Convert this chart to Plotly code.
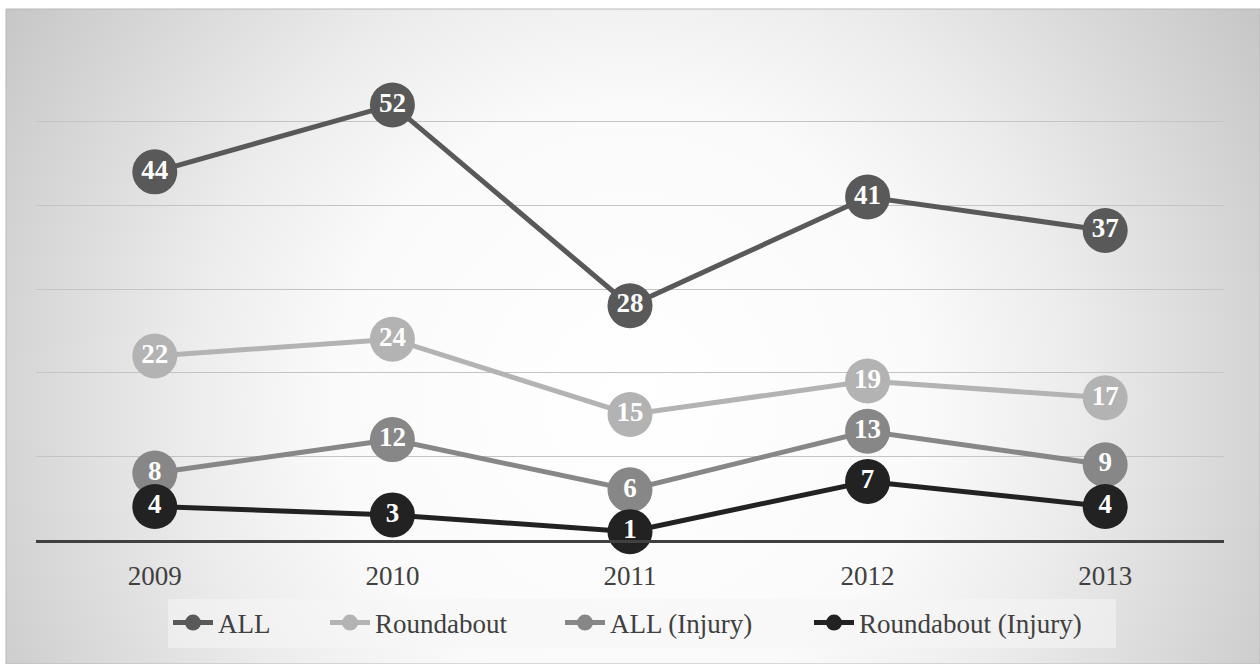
import base64
import plotly.graph_objects as go

years = ["2009", "2010", "2011", "2012", "2013"]
all_vals = [44, 52, 28, 41, 37]
roundabout = [22, 24, 15, 19, 17]
all_injury = [8, 12, 6, 13, 9]
roundabout_injury = [4, 3, 1, 7, 4]

series = [
    ("ALL", all_vals, "#595959", 102),
    ("Roundabout", roundabout, "#b3b3b3", 180),
    ("ALL (Injury)", all_injury, "#878787", 194),
    ("Roundabout (Injury)", roundabout_injury, "#222222", 252),
]

W, H = 1260, 664
L, R, T, B = 36, 36, 38, 124
pw, ph = W - L - R, H - T - B

def px2x(px):
    return (px - L) / pw

def py2y(py):
    return (H - B - py) / ph

fig = go.Figure()
for name, vals, col, lw in series:
    fig.add_trace(go.Scatter(
        x=years, y=vals, name=name,
        mode="lines+markers+text",
        line=dict(color=col, width=5),
        marker=dict(color=col, size=45, line=dict(width=0)),
        text=[str(v) for v in vals],
        textposition="middle center",
        textfont=dict(family="Liberation Serif", size=27, color="white", weight="bold"),
        cliponaxis=False,
        legendwidth=lw,
    ))

svg = (
    '<svg xmlns="http://www.w3.org/2000/svg" width="1254" height="655" viewBox="0 0 1254 655" preserveAspectRatio="none">'
    '<defs><radialGradient id="g" cx="624" cy="391" r="740" gradientUnits="userSpaceOnUse">'
    '<stop offset="0" stop-color="#ffffff"/>'
    '<stop offset="0.4" stop-color="#fafafa"/>'
    '<stop offset="0.6" stop-color="#ececec"/>'
    '<stop offset="1" stop-color="#c6c6c6"/>'
    '</radialGradient></defs>'
    '<rect x="0" y="0" width="1254" height="655" fill="url(#g)"/>'
    '</svg>'
)
src = "data:image/svg+xml;base64," + base64.b64encode(svg.encode()).decode()

x0, x1 = px2x(6), px2x(1260)
y0, y1 = py2y(9), py2y(664)

fig.add_layout_image(dict(
    source=src, xref="paper", yref="paper",
    x=x0, y=y0, sizex=x1 - x0, sizey=y0 - y1,
    xanchor="left", yanchor="top", sizing="stretch", layer="below",
))
fig.add_shape(type="rect", xref="paper", yref="paper",
              x0=x0, x1=x1, y0=y1, y1=y0,
              line=dict(color="#b8b8b8", width=1), layer="below")

fig.update_layout(
    width=W, height=H,
    margin=dict(l=L, r=R, t=T, b=B),
    paper_bgcolor="white",
    plot_bgcolor="rgba(0,0,0,0)",
    font=dict(family="Liberation Serif", color="#404040"),
    showlegend=True,
    legend=dict(
        orientation="h", x=px2x(642), xanchor="center",
        y=py2y(623), yanchor="middle",
        bgcolor="rgba(246,246,246,0.55)",
        font=dict(family="Liberation Serif", size=27, color="#404040"),
        itemwidth=40, tracegroupgap=0,
    ),
    xaxis=dict(
        range=[-0.5, 4.5],
        showgrid=False, showline=True, linecolor="#404040", linewidth=3,
        ticks="", tickfont=dict(family="Liberation Serif", size=27, color="#404040"),
        ticklabelstandoff=10,
    ),
    yaxis=dict(
        range=[0, 60], dtick=10, showgrid=True, gridcolor="#c4c4c4", gridwidth=1,
        showticklabels=False, zeroline=False, showline=False,
    ),
)

fig.write_html("out.html")
